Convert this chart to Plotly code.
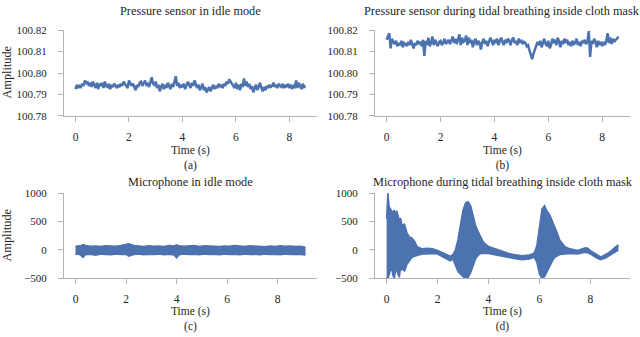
import numpy as np
import plotly.graph_objects as go

# sampling step of the pressure traces (s)
press_dt = 0.05

# pressure sensor, idle mode (kPa)
press_idle = [
    100.7925, 100.7945, 100.7930, 100.7940, 100.7935, 100.7950, 100.7940, 100.7965, 100.7950, 100.7960,
    100.7940, 100.7955, 100.7935, 100.7960, 100.7945, 100.7930, 100.7955, 100.7925, 100.7950, 100.7940,
    100.7955, 100.7930, 100.7960, 100.7940, 100.7935, 100.7950, 100.7925, 100.7945, 100.7935, 100.7950,
    100.7940, 100.7930, 100.7945, 100.7935, 100.7950, 100.7940, 100.7960, 100.7950, 100.7945, 100.7930,
    100.7965, 100.7955, 100.7940, 100.7950, 100.7930, 100.7920, 100.7945, 100.7935, 100.7955, 100.7960,
    100.7940, 100.7955, 100.7965, 100.7945, 100.7950, 100.7935, 100.7960, 100.7980, 100.7950, 100.7945,
    100.7960, 100.7930, 100.7945, 100.7915, 100.7935, 100.7950, 100.7925, 100.7945, 100.7930, 100.7955,
    100.7940, 100.7925, 100.7950, 100.7935, 100.7960, 100.7985, 100.7940, 100.7955, 100.7930, 100.7945,
    100.7935, 100.7950, 100.7925, 100.7940, 100.7960, 100.7945, 100.7930, 100.7955, 100.7940, 100.7965,
    100.7945, 100.7930, 100.7945, 100.7920, 100.7935, 100.7950, 100.7920, 100.7935, 100.7910, 100.7925,
    100.7935, 100.7915, 100.7930, 100.7945, 100.7925, 100.7940, 100.7930, 100.7950, 100.7935, 100.7945,
    100.7930, 100.7950, 100.7940, 100.7960, 100.7950, 100.7970, 100.7960, 100.7950, 100.7940, 100.7930,
    100.7955, 100.7925, 100.7945, 100.7920, 100.7950, 100.7935, 100.7975, 100.7940, 100.7960, 100.7935,
    100.7950, 100.7925, 100.7940, 100.7910, 100.7930, 100.7945, 100.7920, 100.7940, 100.7955, 100.7930,
    100.7915, 100.7935, 100.7920, 100.7940, 100.7930, 100.7945, 100.7935, 100.7940, 100.7955, 100.7935,
    100.7945, 100.7930, 100.7950, 100.7940, 100.7935, 100.7950, 100.7930, 100.7945, 100.7935, 100.7950,
    100.7930, 100.7945, 100.7925, 100.7940, 100.7935, 100.7965, 100.7930, 100.7955, 100.7940, 100.7925,
    100.7950, 100.7935, 100.7940,
]

# pressure sensor, tidal breathing inside cloth mask (kPa)
press_mask = [
    100.8155, 100.8170, 100.8185, 100.8115, 100.8160, 100.8145, 100.8135, 100.8150, 100.8125, 100.8140,
    100.8130, 100.8150, 100.8120, 100.8140, 100.8135, 100.8125, 100.8145, 100.8130, 100.8155, 100.8135,
    100.8115, 100.8140, 100.8130, 100.8150, 100.8135, 100.8145, 100.8125, 100.8155, 100.8080, 100.8150,
    100.8130, 100.8165, 100.8125, 100.8140, 100.8170, 100.8130, 100.8155, 100.8140, 100.8125, 100.8145,
    100.8150, 100.8130, 100.8140, 100.8160, 100.8135, 100.8145, 100.8155, 100.8135, 100.8150, 100.8170,
    100.8140, 100.8160, 100.8135, 100.8155, 100.8180, 100.8130, 100.8165, 100.8145, 100.8150, 100.8175,
    100.8130, 100.8165, 100.8140, 100.8155, 100.8120, 100.8145, 100.8160, 100.8130, 100.8150, 100.8140,
    100.8110, 100.8145, 100.8160, 100.8135, 100.8150, 100.8125, 100.8145, 100.8165, 100.8150, 100.8130,
    100.8155, 100.8140, 100.8160, 100.8130, 100.8150, 100.8165, 100.8145, 100.8130, 100.8155, 100.8140,
    100.8160, 100.8150, 100.8130, 100.8155, 100.8165, 100.8140, 100.8150, 100.8130, 100.8160, 100.8145,
    100.8150, 100.8135, 100.8145, 100.8140, 100.8125, 100.8130, 100.8105, 100.8085, 100.8065, 100.8090,
    100.8110, 100.8125, 100.8145, 100.8130, 100.8150, 100.8120, 100.8140, 100.8160, 100.8135, 100.8125,
    100.8150, 100.8115, 100.8130, 100.8160, 100.8140, 100.8155, 100.8130, 100.8165, 100.8145, 100.8120,
    100.8150, 100.8135, 100.8160, 100.8140, 100.8155, 100.8130, 100.8145, 100.8125, 100.8150, 100.8135,
    100.8140, 100.8160, 100.8130, 100.8145, 100.8125, 100.8150, 100.8140, 100.8155, 100.8135, 100.8145,
    100.8195, 100.8075, 100.8150, 100.8135, 100.8160, 100.8145, 100.8120, 100.8150, 100.8130, 100.8145,
    100.8125, 100.8145, 100.8130, 100.8150, 100.8185, 100.8140, 100.8165, 100.8135, 100.8160, 100.8145,
    100.8155, 100.8160, 100.8170,
]

# microphone, idle mode: envelope of the signal
mic_idle_t = [0.0, 0.1, 0.2, 0.3, 0.4, 0.6, 0.8, 1.0, 1.2, 1.4, 1.6, 1.8, 2.0, 2.1, 2.3, 2.5,
              2.7, 2.9, 3.1, 3.3, 3.5, 3.7, 3.9, 4.0, 4.1, 4.3, 4.5, 4.7, 4.9, 5.1, 5.3, 5.5,
              5.7, 5.9, 6.1, 6.3, 6.5, 6.7, 6.9, 7.1, 7.3, 7.5, 7.7, 7.9, 8.1, 8.3, 8.5, 8.7,
              8.9, 9.1]
mic_idle_hi = [60, 75, 70, 95, 80, 65, 70, 60, 75, 70, 65, 80, 95, 110, 80, 70,
               60, 75, 65, 70, 60, 80, 70, 90, 75, 65, 70, 80, 60, 75, 70, 65,
               60, 70, 65, 80, 70, 60, 75, 65, 60, 55, 70, 60, 75, 65, 70, 60,
               65, 50]
mic_idle_lo = [-80, -70, -90, -130, -80, -75, -90, -70, -80, -85, -70, -80, -75, -110, -80, -70,
               -85, -75, -80, -70, -85, -75, -90, -140, -85, -70, -80, -75, -85, -70, -80, -75,
               -85, -70, -80, -75, -85, -70, -80, -75, -85, -70, -80, -75, -85, -70, -80, -75,
               -80, -90]

# microphone, tidal breathing inside cloth mask: envelope of the signal
mic_mask_t = [0.0, 0.02, 0.05, 0.1, 0.15, 0.2, 0.25, 0.3, 0.35, 0.4, 0.45, 0.5, 0.55, 0.6, 0.65,
              0.7, 0.8, 0.9, 1.0, 1.1, 1.2, 1.3, 1.4, 1.6, 1.8, 2.0, 2.2, 2.4, 2.5, 2.6, 2.7,
              2.8, 2.9, 3.0, 3.1, 3.2, 3.3, 3.4, 3.5, 3.6, 3.7, 3.8, 4.0, 4.2, 4.5, 4.8, 5.0,
              5.3, 5.6, 5.8, 5.9, 6.0, 6.1, 6.2, 6.3, 6.4, 6.5, 6.6, 6.7, 6.8, 7.0, 7.2, 7.5,
              7.8, 7.9, 8.0, 8.2, 8.4, 8.6, 8.8, 9.0, 9.1]
mic_mask_hi = [550, 750, 1000, 760, 720, 690, 650, 700, 640, 690, 600, 520, 560, 450, 430,
               460, 300, 230, 210, 150, 60, 40, 20, 30, 20, -10, -50, -100, -110, -80, 0,
               180, 480, 700, 830, 850, 780, 620, 420, 320, 240, 140, 60, 30, -20, -60, -80,
               -100, -90, -50, 80, 400, 720, 780, 680, 620, 520, 400, 300, 170, 60, 20, -10,
               40, 30, -10, -70, -120, -80, -20, 60, 90]
mic_mask_lo = [-500, -480, -500, -420, -350, -300, -450, -500, -380, -330, -430, -480, -300, -350, -320,
               -380, -250, -180, -130, -110, -100, -90, -70, -70, -60, -70, -120, -170, -190, -160, -280,
               -380, -420, -470, -500, -480, -400, -260, -150, -90, -60, -60, -60, -80, -110, -130, -150,
               -170, -160, -130, -220, -420, -500, -470, -380, -280, -200, -130, -100, -80, -70, -60, -70,
               -40, -50, -70, -130, -170, -140, -80, -20, 0]

x_ticks = [0, 2, 4, 6, 8]
press_ticks = [100.78, 100.79, 100.80, 100.81, 100.82]
mic_ticks = [-500, 0, 500, 1000]

line_col = '#4c72b0'
axis_col = '#b3b3b3'
text_col = '#262626'
font_fam = 'Liberation Serif'

fig = go.Figure()

t_idle = np.arange(len(press_idle)) * press_dt
t_mask = np.arange(len(press_mask)) * press_dt

fig.add_trace(go.Scatter(x=t_idle, y=press_idle, mode='lines',
                         line=dict(color=line_col, width=2.5),
                         xaxis='x', yaxis='y'))
fig.add_trace(go.Scatter(x=t_mask, y=press_mask, mode='lines',
                         line=dict(color=line_col, width=2.5),
                         xaxis='x2', yaxis='y2'))

# microphone traces drawn as filled envelopes
for t, lo, hi, xa, ya in [(mic_idle_t, mic_idle_lo, mic_idle_hi, 'x3', 'y3'),
                          (mic_mask_t, mic_mask_lo, mic_mask_hi, 'x4', 'y4')]:
    fig.add_trace(go.Scatter(x=t, y=lo, mode='lines',
                             line=dict(color=line_col, width=1.5),
                             xaxis=xa, yaxis=ya))
    fig.add_trace(go.Scatter(x=t, y=hi, mode='lines', fill='tonexty',
                             fillcolor=line_col,
                             line=dict(color=line_col, width=1.5),
                             xaxis=xa, yaxis=ya))

left_dom = [64 / 640, 317 / 640]
right_dom = [375 / 640, 630 / 640]
top_dom = [1 - 114 / 337, 1 - 25 / 337]
bot_dom = [1 - 282.5 / 337, 1 - 194 / 337]

def x_axis(dom, anchor, rng):
    return dict(domain=dom, anchor=anchor, range=rng, tickvals=x_ticks,
                showline=True, linecolor=axis_col, linewidth=1,
                ticks='outside', ticklen=5, tickcolor=axis_col,
                ticklabelstandoff=5, showgrid=False, zeroline=False,
                tickfont=dict(family=font_fam, size=11.5, color=text_col))

def y_axis(dom, anchor, rng, vals, fmt):
    return dict(domain=dom, anchor=anchor, range=rng, tickvals=vals,
                tickformat=fmt, showline=True, linecolor=axis_col, linewidth=1,
                ticks='outside', ticklen=5, tickcolor=axis_col,
                ticklabelstandoff=9, showgrid=False, zeroline=False,
                tickfont=dict(family=font_fam, size=11, color=text_col))

fig.update_layout(
    width=640, height=337,
    margin=dict(l=0, r=0, t=0, b=0),
    paper_bgcolor='white', plot_bgcolor='white',
    showlegend=False,
    font=dict(family=font_fam, size=11, color=text_col),
    xaxis=x_axis(left_dom, 'y', [-0.43, 9.03]),
    yaxis=y_axis(top_dom, 'x', [100.78, 100.82], press_ticks, '.2f'),
    xaxis2=x_axis(right_dom, 'y2', [-0.43, 9.03]),
    yaxis2=y_axis(top_dom, 'x2', [100.78, 100.82], press_ticks, '.2f'),
    xaxis3=x_axis(left_dom, 'y3', [-0.455, 9.555]),
    yaxis3=y_axis(bot_dom, 'x3', [-500, 1000], mic_ticks, 'd'),
    xaxis4=x_axis(right_dom, 'y4', [-0.455, 9.555]),
    yaxis4=y_axis(bot_dom, 'x4', [-500, 1000], mic_ticks, 'd'),
)

titles = [
    ('Pressure sensor in idle mode', 190, 5),
    ('Pressure sensor during tidal breathing inside cloth mask', 502, 5),
    ('Microphone in idle mode', 190, 183),
    ('Microphone during tidal breathing inside cloth mask', 503, 183),
]
for txt, px, py in titles:
    fig.add_annotation(text=txt, x=px / 640, y=1 - py / 337, xref='paper', yref='paper',
                       showarrow=False, xanchor='center', yanchor='middle',
                       font=dict(family=font_fam, size=12.3, color=text_col))

xlabels = [
    ('Time (s)<br>(a)', 190, 157.5),
    ('Time (s)<br>(b)', 502, 157.5),
    ('Time (s)<br>(c)', 190, 325),
    ('Time (s)<br>(d)', 502, 325),
]
for txt, px, py in xlabels:
    fig.add_annotation(text=txt, x=px / 640, y=1 - py / 337, xref='paper', yref='paper',
                       showarrow=False, xanchor='center', yanchor='middle',
                       font=dict(family=font_fam, size=11.5, color=text_col))

for py in [69, 238]:
    fig.add_annotation(text='Amplitude', x=7 / 640, y=1 - py / 337, xref='paper', yref='paper',
                       showarrow=False, textangle=-90, xanchor='center', yanchor='middle',
                       font=dict(family=font_fam, size=12.3, color=text_col))

# drop the default page margin so the figure sits at the window corner
fig.write_html("out.html", config={'displayModeBar': False},
               post_script="document.body.style.margin='0';document.body.style.overflow='hidden';")
